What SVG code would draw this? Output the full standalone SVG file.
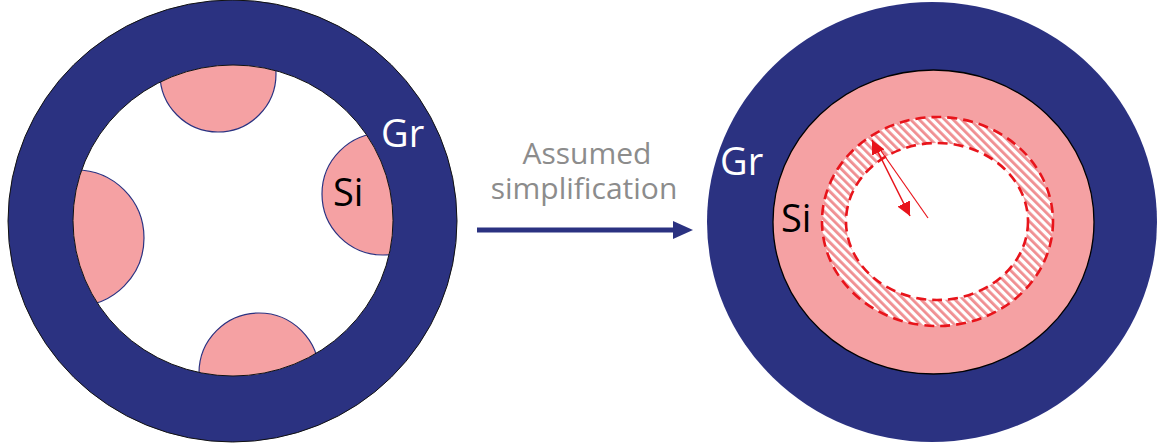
<svg xmlns="http://www.w3.org/2000/svg" width="1158" height="446" viewBox="0 0 1158 446">
<style>
.ring{fill:#2b3281;stroke:#111;stroke-width:1}
.si{fill:#f5a1a3;stroke:#2b3281;stroke-width:1.2}
.lbl{font-family:"Open Sans","Noto Sans",sans-serif;font-size:38px}
.w{fill:#fff}
.k{fill:#000}
.cap{font-family:"Open Sans","Noto Sans",sans-serif;font-size:30px;fill:#8c8c8c;text-anchor:middle}
.dash{fill:none;stroke:#e8141b;stroke-width:2.6;stroke-dasharray:10,6}
</style>
<defs>
<clipPath id="inner"><ellipse cx="233" cy="220.5" rx="160" ry="155.5"/></clipPath>
<pattern id="hatch" width="6" height="6" patternUnits="userSpaceOnUse" patternTransform="rotate(-45)">
<rect width="6" height="6" fill="#fff"/>
<rect x="0" y="0" width="2.8" height="6" fill="#f08e91"/>
</pattern>
<marker id="redHead" markerWidth="14" markerHeight="14" refX="14" refY="7" orient="auto-start-reverse" markerUnits="userSpaceOnUse">
<path d="M0,0 L14,7 L0,14 z" fill="#e8141b"/>
</marker>
</defs>

<g id="left-particle">
<ellipse class="ring" cx="232.5" cy="221" rx="224.5" ry="221"/>
<ellipse cx="233" cy="220.5" rx="160" ry="155.5" fill="#fff"/>
<g clip-path="url(#inner)">
<circle class="si" cx="218" cy="74" r="58"/>
<circle class="si" cx="383" cy="194" r="61"/>
<circle class="si" cx="76" cy="238" r="68"/>
<circle class="si" cx="259" cy="373" r="60"/>
</g>
<ellipse cx="233" cy="220.5" rx="160" ry="155.5" fill="none" stroke="#111" stroke-width="1"/>
<text class="lbl w" x="381" y="147">Gr</text>
<text class="lbl k" x="333" y="206">Si</text>
</g>

<g id="transition">
<text class="cap" x="587" y="164">Assumed</text>
<text class="cap" x="584" y="199">simplification</text>
</g>

<g id="right-particle">
<ellipse cx="932" cy="222" rx="225" ry="220" fill="#2b3281"/>
<ellipse cx="933.5" cy="222" rx="160.5" ry="152" fill="#f5a1a3" stroke="#000" stroke-width="1.3"/>
<path d="M937.5,117 A115.5,104.5 0 1 1 937.49,117 Z M937,143 A91,78.5 0 1 0 937.01,143 Z" fill="url(#hatch)" fill-rule="evenodd"/>
<ellipse cx="937" cy="221.5" rx="91" ry="78.5" fill="#fff"/>
<ellipse class="dash" cx="937.5" cy="221.5" rx="115.5" ry="104.5"/>
<ellipse class="dash" cx="937" cy="221.5" rx="91" ry="78.5"/>
<text class="lbl w" x="720" y="175">Gr</text>
<text class="lbl k" x="781" y="232">Si</text>
</g>

<g id="connectors">
<line x1="477" y1="230" x2="674" y2="230" stroke="#2b3281" stroke-width="5"/>
<path d="M673,221 L693,230 L673,239 z" fill="#2b3281"/>
<line x1="872" y1="140" x2="910" y2="216" stroke="#e8141b" stroke-width="1.5" marker-start="url(#redHead)" marker-end="url(#redHead)"/>
<line x1="879" y1="148" x2="928" y2="218" stroke="#e8141b" stroke-width="1.2"/>
</g>
</svg>
